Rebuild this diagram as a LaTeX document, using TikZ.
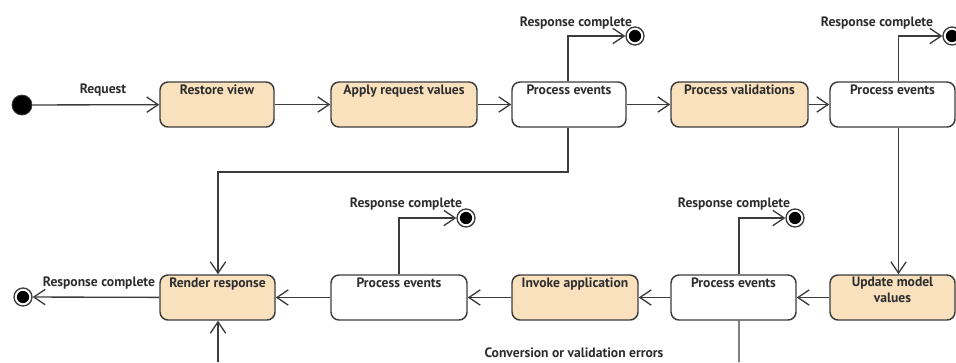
\documentclass[tikz,border=0pt]{standalone}
\usepackage{fontspec}
\setmainfont{PT Sans}
\usetikzlibrary{arrows.meta}
\definecolor{phase}{RGB}{249,225,190}
\definecolor{ink}{RGB}{60,60,60}
\definecolor{txt}{RGB}{45,45,45}
\tikzset{
  stbox/.style={draw=ink, line width=1.1pt, rounded corners=6pt, minimum height=33.75pt,
    inner sep=0pt, fill=white},
  phasebox/.style={stbox, fill=phase},
  lbl/.style={anchor=north, inner sep=0pt, yshift=-2.2pt, text=txt, align=center,
    font=\fontsize{10.2}{11.6}\selectfont\bfseries},
  tag/.style={inner sep=0pt, text=txt, font=\fontsize{10.2}{11}\selectfont\bfseries},
  flow/.style={draw=ink, line width=1pt, -{Straight Barb[length=8.5pt,width=11.5pt,line width=1pt]}},
  plain/.style={draw=ink, line width=1pt},
  initial/.style={circle, fill=black, draw=ink, line width=0.6pt, minimum size=15pt, inner sep=0pt},
  final/.style={circle, draw=ink, line width=1pt, fill=white, minimum size=13.5pt, inner sep=0pt,
    path picture={\fill[black] (path picture bounding box.center) circle (4.6pt);}}
}
\begin{document}
\begin{tikzpicture}[x=0.75pt, y=-0.75pt]
\useasboundingbox (0,0) rectangle (956,362);

% upper row of phases
\node[initial] (start) at (22,105) {};
\node[phasebox, minimum width=85.5pt, label={[lbl]north:Restore view}] (rv) at (217,104.5) {};
\node[phasebox, minimum width=109.5pt, label={[lbl]north:Apply request values}] (arv) at (404,104.5) {};
\node[stbox, minimum width=85.5pt, label={[lbl]north:Process events}] (pe1) at (569,104.5) {};
\node[phasebox, minimum width=102.75pt, label={[lbl]north:Process validations}] (pv) at (739.5,104.5) {};
\node[stbox, minimum width=93.75pt, label={[lbl]north:Process events}] (pe2) at (892.5,104.5) {};

% lower row of phases
\node[phasebox, minimum width=86.25pt, label={[lbl]north:Render response}] (rr) at (217.5,297.5) {};
\node[stbox, minimum width=102pt, label={[lbl]north:Process events}] (pe3) at (399,297.5) {};
\node[phasebox, minimum width=94.5pt, label={[lbl]north:Invoke application}] (ia) at (575,297.5) {};
\node[stbox, minimum width=93.75pt, label={[lbl]north:Process events}] (pe4) at (733.5,297.5) {};
\node[phasebox, minimum width=93.75pt, label={[lbl]north:Update model\\values}] (um) at (892.5,297.5) {};

% final states
\node[final] (f1) at (635,36) {};
\node[final] (f2) at (952,36) {};
\node[final] (f3) at (466,218) {};
\node[final] (f4) at (795,218) {};
\node[final] (f5) at (23,297) {};

% texts on the transitions
\node[tag] (treq) at (103,90) {Request};
\node[tag] (t1) at (576,23) {Response complete};
\node[tag] (t2) at (877,23) {Response complete};
\node[tag] (t3) at (406,204) {Response complete};
\node[tag] (t4) at (734,204) {Response complete};
\node[tag] (t5) at (99,283) {Response complete};
\node[tag] (terr) at (574,353) {Conversion or validation errors};

% loose ends at the lower border
\coordinate (inbottom) at (218,362);
\coordinate (outbottom) at (739,362);
\coordinate (turn) at (218,172);

% upper row transitions
\draw[flow] (start) -- (rv);
\draw[flow] (rv) -- (arv);
\draw[flow] (arv) -- (pe1);
\draw[flow] (pe1) -- (pv);
\draw[flow] (pv) -- (pe2);
\draw[flow] ([xshift=-0.75pt]pe1.north) |- (f1);
\draw[flow] ([xshift=4.5pt]pe2.north) |- (f2);
\draw[flow] ([xshift=-0.75pt]pe1.south) |- (turn) -- (rr.north -| turn);
\draw[flow] ([xshift=4.5pt]pe2.south) -- ([xshift=4.5pt]um.north);

% lower row transitions
\draw[flow] (um) -- (pe4);
\draw[flow] (pe4) -- (ia);
\draw[flow] (ia) -- (pe3);
\draw[flow] (pe3) -- (rr);
\draw[flow] (rr) -- (f5);
\draw[flow] (pe3.north) |- (f3);
\draw[flow] ([xshift=4.1pt]pe4.north) |- (f4);
\draw[flow] (inbottom) -- (rr.south -| inbottom);
\draw[plain] ([xshift=4.1pt]pe4.south) -- (outbottom);
\end{tikzpicture}
\end{document}
